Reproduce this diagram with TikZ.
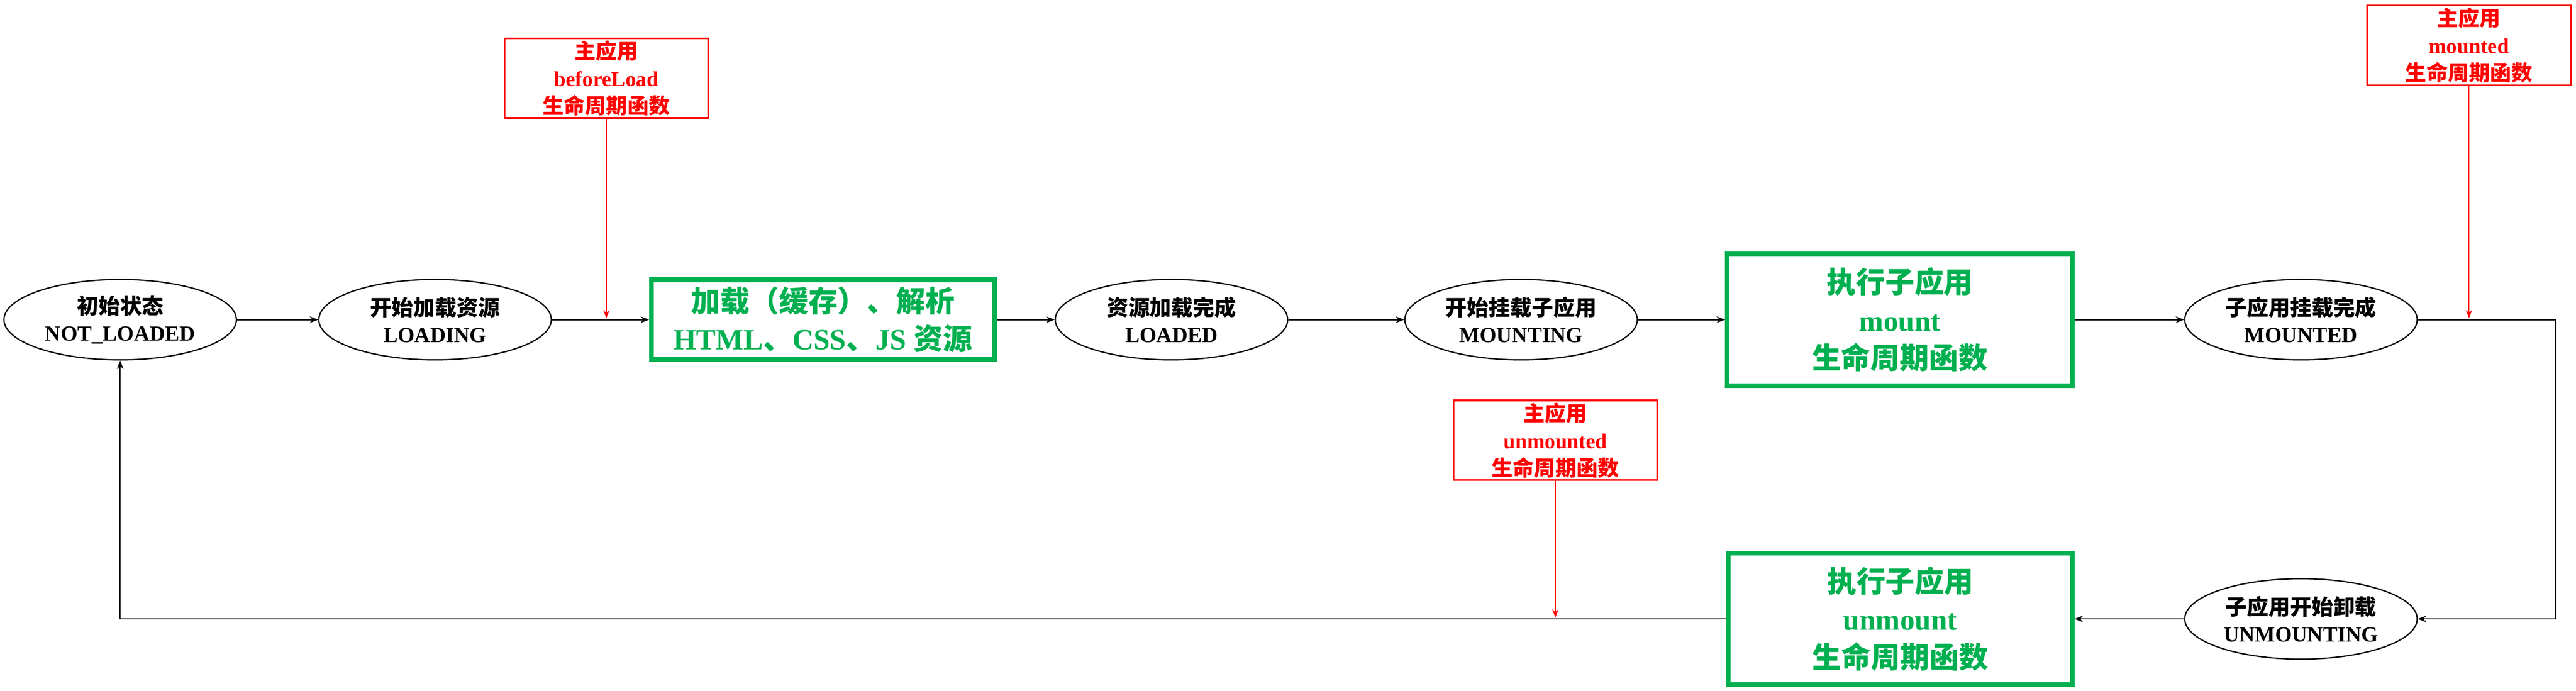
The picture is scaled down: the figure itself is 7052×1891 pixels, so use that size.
\documentclass[tikz,border=0pt]{standalone}
\usepackage{fontspec}
\setmainfont{Liberation Serif}
\newfontfamily\cjk{Noto Sans CJK SC}
\usetikzlibrary{shapes.geometric,arrows.meta}
\definecolor{okgreen}{RGB}{0,176,80}
\definecolor{okred}{RGB}{255,0,0}
\begin{document}
\begin{tikzpicture}[x=0.01cm,y=-0.01cm,
 state/.style={ellipse,draw=black,line width=1pt,minimum width=6.36cm,minimum height=2.2cm,inner sep=0pt,align=center,font=\fontsize{16.8}{20.8}\selectfont\bfseries},
 gbox/.style={rectangle,draw=okgreen,line width=3.7pt,text=okgreen,align=center,inner sep=0pt,font=\fontsize{22.8}{29.5}\selectfont\bfseries},
 rbox/.style={rectangle,draw=okred,line width=1.3pt,text=okred,align=center,inner sep=0pt,minimum width=5.57cm,minimum height=2.18cm,font=\fontsize{16.5}{21.3}\selectfont\bfseries},
 flow/.style={draw=black,line width=0.9pt,-{Stealth[length=0.23cm,width=0.18cm]}},
 hook/.style={draw=okred,line width=0.9pt,-{Stealth[length=0.22cm,width=0.17cm]}},
]
\useasboundingbox (0,0) rectangle (7052,1891);

\node[state] (nl) at (329,875) {{\cjk 初始状态}\\NOT\_LOADED};
\node[state] (ld) at (1191,875) {{\cjk 开始加载资源}\\LOADING};
\node[gbox,minimum width=9.39cm,minimum height=2.18cm] (res) at (2253,875) {{\cjk 加载（缓存）、解析}\\HTML{\cjk 、}CSS{\cjk 、}JS {\cjk 资源}};
\node[state] (lded) at (3207,875) {{\cjk 资源加载完成}\\LOADED};
\node[state] (mting) at (4164,875) {{\cjk 开始挂载子应用}\\MOUNTING};
\node[gbox,minimum width=9.44cm,minimum height=3.62cm] (mnt) at (5201,875) {{\cjk 执行子应用}\\mount\\{\cjk 生命周期函数}};
\node[state] (mted) at (6299,875) {{\cjk 子应用挂载完成}\\MOUNTED};
\node[state] (umting) at (6299,1694) {{\cjk 子应用开始卸载}\\UNMOUNTING};
\node[gbox,minimum width=9.41cm,minimum height=3.6cm] (umnt) at (5202,1694) {{\cjk 执行子应用}\\unmount\\{\cjk 生命周期函数}};

\node[rbox] (bl) at (1660,214) {{\cjk 主应用}\\beforeLoad\\{\cjk 生命周期函数}};
\node[rbox] (md) at (6759,124) {{\cjk 主应用}\\mounted\\{\cjk 生命周期函数}};
\node[rbox] (umd) at (4258,1205) {{\cjk 主应用}\\unmounted\\{\cjk 生命周期函数}};

\coordinate (t1) at (1660,871);
\coordinate (t2) at (6759,871);
\coordinate (t3) at (4258,1690);
\coordinate (c1) at (6995,875);
\coordinate (c2) at (6995,1694);
\coordinate (c3) at (329,1694);

\draw[flow] (nl) -- (ld);
\draw[flow] (ld) -- (res);
\draw[flow] (res) -- (lded);
\draw[flow] (lded) -- (mting);
\draw[flow] (mting) -- (mnt);
\draw[flow] (mnt) -- (mted);
\draw[flow] (mted.east) -- (c1) -- (c2) -- (umting.east);
\draw[flow] (umting.west) -- (umnt.east);
\draw[flow] (umnt.west) -- (c3) -- (nl.south);

\draw[hook] (bl.south) -- (t1);
\draw[hook] (md.south) -- (t2);
\draw[hook] (umd.south) -- (t3);
\end{tikzpicture}
\end{document}
